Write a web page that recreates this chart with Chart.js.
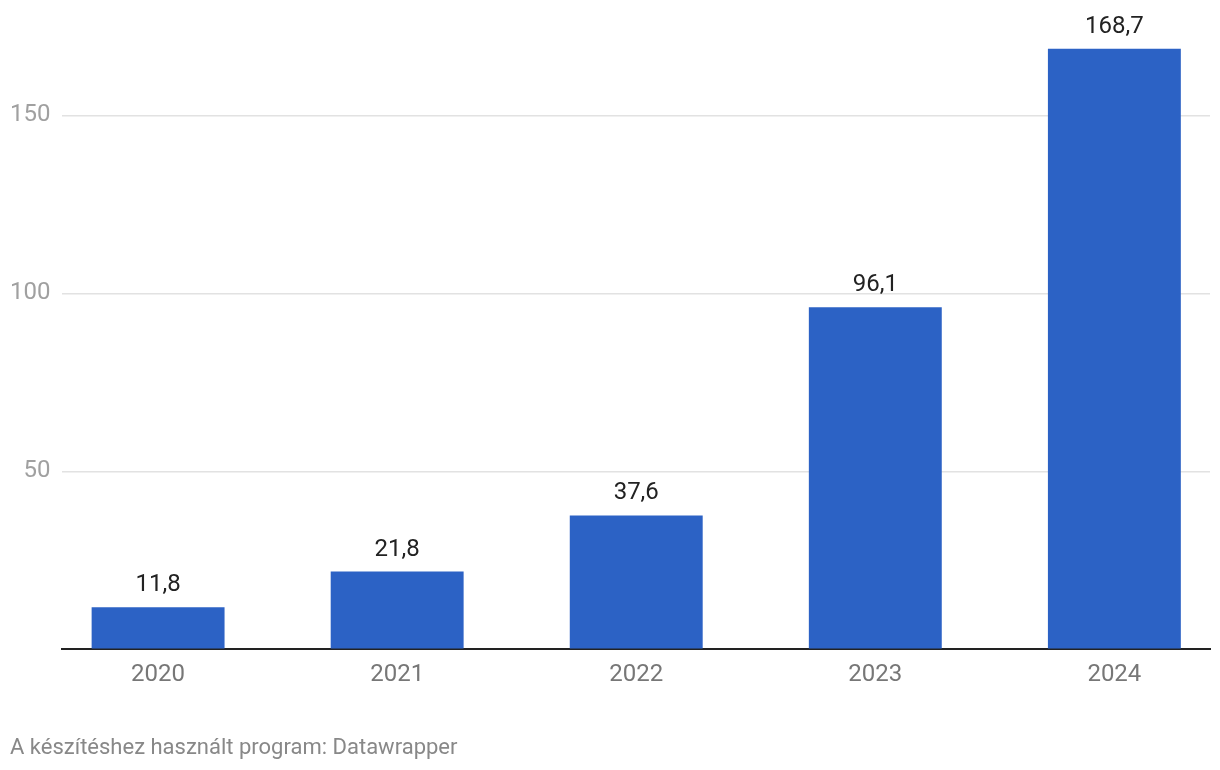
<!DOCTYPE html>
<html>
<head>
<meta charset="utf-8">
<script src="https://cdn.jsdelivr.net/npm/chart.js@4.4.1/dist/chart.umd.min.js"></script>
<style>
  html, body { margin: 0; padding: 0; background: #fff; }
  #wrap { position: relative; width: 1220px; height: 770px; }
  #footer {
    position: absolute; left: 10px; top: 734px;
    font-family: Roboto, sans-serif; font-size: 22px; color: #888;
  }
</style>
</head>
<body>
<div id="wrap">
  <canvas id="chart" width="1220" height="770"></canvas>
  <div id="footer">A készítéshez használt program: Datawrapper</div>
</div>
<script>
const years = ['2020', '2021', '2022', '2023', '2024'];
const values = [11.8, 21.8, 37.6, 96.1, 168.7];
const yTicks = [0, 50, 100, 150];

// ertekek a oszlopok felett
const valueLabels = {
  id: 'valueLabels',
  afterDatasetsDraw(chart) {
    const ctx = chart.ctx;
    const meta = chart.getDatasetMeta(0);
    ctx.save();
    ctx.font = '24px Roboto';
    ctx.fillStyle = '#222';
    ctx.textAlign = 'center';
    ctx.textBaseline = 'alphabetic';
    meta.data.forEach((bar, i) => {
      ctx.fillText(values[i].toFixed(1).replace('.', ','), bar.x, bar.y - 16);
    });
    ctx.restore();
  }
};

const ctx = document.getElementById('chart').getContext('2d');

new Chart(ctx, {
  type: 'bar',
  data: {
    datasets: [{
      data: values.map((v, i) => ({ x: i, y: v })),
      backgroundColor: '#2c62c5',
      barPercentage: 0.556,
      categoryPercentage: 1,
    }],
  },
  options: {
    responsive: false,
    animation: false,
    layout: { padding: { left: -2, right: 10, top: 8, bottom: 78 } },
    plugins: {
      legend: { display: false },
      tooltip: { enabled: false },
    },
    scales: {
      x: {
        type: 'linear',
        offset: false,
        min: -0.4,
        max: 4.4,
        afterBuildTicks: (axis) => { axis.ticks = years.map((y, i) => ({ value: i })); },
        grid: { display: false, offset: false },
        border: { display: true, color: '#222', width: 2 },
        ticks: {
          padding: 3,
          color: '#777',
          font: { family: 'Roboto', size: 24 },
          callback: (v) => years[v],
        },
      },
      y: {
        min: 0,
        max: 175,
        afterBuildTicks: (axis) => { axis.ticks = yTicks.map(v => ({ value: v })); },
        grid: {
          color: (c) => c.tick && c.tick.value === 0 ? 'rgba(0,0,0,0)' : '#e2e2e2',
          lineWidth: 1.5,
          drawTicks: false,
        },
        border: { display: false },
        ticks: {
          padding: 12,
          color: '#a0a0a0',
          font: { family: 'Roboto', size: 24 },
          callback: (v) => v === 0 ? '' : v,
        },
      },
    },
  },
  plugins: [valueLabels],
});
</script>
</body>
</html>
